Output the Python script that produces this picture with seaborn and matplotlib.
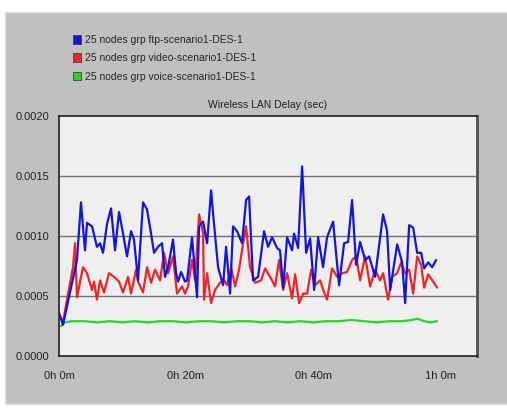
import numpy as np
import pandas as pd
import matplotlib
matplotlib.use("Agg")
import matplotlib.pyplot as plt
from matplotlib.patches import Rectangle, Patch
import seaborn as sns

# series labels
labels = ["25 nodes grp ftp-scenario1-DES-1",
          "25 nodes grp video-scenario1-DES-1",
          "25 nodes grp voice-scenario1-DES-1"]

# ftp series (minutes, sec)
ftp_t = [0.0, 0.63, 2.83, 3.46, 4.09, 4.41, 5.20, 5.98, 6.46, 6.93, 7.56, 8.19,
         8.82, 9.45, 10.08, 10.71, 11.34, 11.81, 12.44, 13.23, 13.86, 14.49,
         14.96, 15.59, 16.22, 16.69, 17.17, 17.95, 18.43, 18.74, 19.21, 19.84,
         20.16, 20.94, 21.73, 22.05, 22.68, 23.31, 23.94, 24.25, 25.04, 25.83,
         26.30, 26.93, 27.40, 28.03, 28.82, 29.45, 29.92, 30.55, 31.34, 32.28,
         32.91, 33.54, 34.33, 34.80, 35.28, 35.91, 36.69, 37.01, 37.64, 38.27,
         38.90, 39.53, 40.16, 40.79, 41.57, 42.20, 43.15, 44.09, 44.88, 45.51,
         46.14, 46.77, 47.40, 48.19, 48.82, 49.76, 50.24, 51.02, 51.65, 52.13,
         53.23, 54.02, 54.49, 55.12, 55.75, 56.38, 57.01, 57.48, 58.11, 58.74,
         59.37]
ftp_v = [0.00036, 0.00026, 0.00080, 0.00128, 0.00088, 0.00111, 0.00108, 0.00091,
         0.00094, 0.00086, 0.00110, 0.00123, 0.00088, 0.00120, 0.00102, 0.00083,
         0.00104, 0.00097, 0.00063, 0.00128, 0.00122, 0.00102, 0.00086, 0.00091,
         0.00094, 0.00066, 0.00074, 0.00097, 0.00069, 0.00062, 0.00070, 0.00062,
         0.00063, 0.00099, 0.00049, 0.00108, 0.00112, 0.00094, 0.00138, 0.00119,
         0.00074, 0.00059, 0.00091, 0.00052, 0.00108, 0.00104, 0.00094, 0.00130,
         0.00133, 0.00063, 0.00066, 0.00104, 0.00091, 0.00099, 0.00090, 0.00088,
         0.00057, 0.00099, 0.00088, 0.00102, 0.00090, 0.00158, 0.00086, 0.00098,
         0.00055, 0.00099, 0.00074, 0.00099, 0.00112, 0.00059, 0.00094, 0.00095,
         0.00130, 0.00076, 0.00095, 0.00080, 0.00083, 0.00066, 0.00086, 0.00118,
         0.00104, 0.00055, 0.00093, 0.00078, 0.00044, 0.00109, 0.00107, 0.00086,
         0.00086, 0.00073, 0.00078, 0.00074, 0.00080]

# video series
video_t = [0.0, 0.63, 1.26, 2.20, 2.52, 2.83, 3.78, 4.41, 5.20, 5.51, 5.98, 6.46,
           7.09, 7.87, 8.66, 9.45, 10.08, 10.87, 11.34, 12.13, 12.44, 13.23,
           13.86, 14.49, 15.12, 15.91, 16.54, 17.17, 17.95, 18.58, 19.37, 19.84,
           20.31, 20.94, 21.42, 22.05, 22.68, 22.83, 23.31, 23.94, 24.57, 25.35,
           25.98, 26.46, 27.09, 27.72, 28.35, 28.98, 29.45, 30.08, 30.87, 31.81,
           32.44, 33.23, 34.02, 34.65, 35.28, 35.91, 36.69, 37.17, 37.80, 38.43,
           39.06, 39.69, 40.31, 41.10, 41.73, 42.20, 42.99, 43.78, 44.57, 45.35,
           46.14, 46.77, 47.40, 48.19, 48.98, 49.76, 50.55, 51.02, 51.81, 52.44,
           53.23, 53.86, 54.49, 55.12, 55.75, 56.38, 57.01, 57.48, 58.11, 58.90,
           59.53]
video_v = [0.00035, 0.00028, 0.00047, 0.00074, 0.00094, 0.00049, 0.00074, 0.00069,
           0.00055, 0.00062, 0.00047, 0.00063, 0.00053, 0.00069, 0.00066, 0.00062,
           0.00053, 0.00066, 0.00052, 0.00072, 0.00062, 0.00053, 0.00074, 0.00061,
           0.00072, 0.00063, 0.00086, 0.00069, 0.00083, 0.00052, 0.00058, 0.00052,
           0.00058, 0.00080, 0.00063, 0.00118, 0.00102, 0.00047, 0.00069, 0.00044,
           0.00055, 0.00061, 0.00063, 0.00059, 0.00074, 0.00058, 0.00072, 0.00094,
           0.00108, 0.00074, 0.00061, 0.00063, 0.00073, 0.00066, 0.00058, 0.00080,
           0.00055, 0.00069, 0.00048, 0.00068, 0.00044, 0.00052, 0.00052, 0.00072,
           0.00059, 0.00063, 0.00053, 0.00047, 0.00073, 0.00066, 0.00069, 0.00070,
           0.00080, 0.00083, 0.00063, 0.00083, 0.00058, 0.00072, 0.00063, 0.00069,
           0.00047, 0.00066, 0.00069, 0.00078, 0.00069, 0.00072, 0.00052, 0.00083,
           0.00076, 0.00057, 0.00068, 0.00062, 0.00057]

# voice series
voice_t = [0.3, 0.9, 2, 4, 6, 8, 10, 12, 14, 16, 18, 20, 22, 24, 26, 28, 30, 32,
           34, 36, 38, 40, 42, 44, 46, 48, 50, 52, 54, 55.5, 56.5, 57.5, 58.5, 59.5]
voice_v = [0.00025, 0.00028, 0.00029, 0.00029, 0.00028, 0.00029, 0.00028, 0.00029,
           0.00028, 0.00029, 0.00029, 0.00028, 0.00029, 0.00029, 0.00028, 0.00029,
           0.00029, 0.00028, 0.00029, 0.00028, 0.00029, 0.00028, 0.00029, 0.00029,
           0.00030, 0.00029, 0.00028, 0.00029, 0.00029, 0.00030, 0.00031, 0.00029,
           0.00028, 0.00029]

xticks = [0, 20, 40, 60]
xtick_labels = ["0h 0m", "0h 20m", "0h 40m", "1h 0m"]
yticks = [0.0, 0.0005, 0.0010, 0.0015, 0.0020]

colors = ["#1414e0", "#f02424", "#24d824"]

# draw voice, video, then ftp so blue sits on top
df = pd.concat([
    pd.DataFrame({"t": voice_t, "v": voice_v, "s": labels[2]}),
    pd.DataFrame({"t": video_t, "v": video_v, "s": labels[1]}),
    pd.DataFrame({"t": ftp_t, "v": ftp_v, "s": labels[0]}),
])

sns.set_style("white")
plt.rcParams["font.family"] = ["Liberation Sans", "DejaVu Sans"]

fig = plt.figure(figsize=(5.07, 4.08), dpi=100)
fig.patch.set_facecolor("white")
# grey panel behind the chart
fig.patches.append(Rectangle((5 / 507, 0.01), 1, 1 - 12 / 408 - 0.01,
                             transform=fig.transFigure, facecolor="#c0c0c0",
                             edgecolor="#e0e0e0", lw=1, zorder=-10))

ax = fig.add_axes([59 / 507, 1 - 356 / 408, 418 / 507, 240 / 408])
ax.set_zorder(5)
ax.set_facecolor("#efefef")

sns.lineplot(data=df, x="t", y="v", hue="s", palette=colors[::-1],
             hue_order=labels[::-1], estimator=None, sort=False, lw=1.6,
             ax=ax, legend=False, zorder=3)

ax.set_xlim(0, 65.8)
ax.set_ylim(0, 0.002)
ax.set_xticks(xticks)
ax.set_xticklabels(xtick_labels)
ax.set_yticks(yticks)
ax.set_yticklabels([f"{v:.4f}" for v in yticks])
ax.tick_params(axis="both", labelsize=8, colors="#222222", length=4,
               width=1, direction="out")
ax.tick_params(axis="x", pad=7)
ax.tick_params(axis="y", pad=3)
ax.set_xlabel("")
ax.set_ylabel("")
for y in yticks[1:4]:
    ax.axhline(y, color="#707070", lw=1, zorder=1)
for side in ["top", "left", "bottom"]:
    ax.spines[side].set_color("#202020")
    ax.spines[side].set_linewidth(1.2)
ax.spines["right"].set_color("#505050")
ax.spines["right"].set_linewidth(2)

ax.set_title("Wireless LAN Delay (sec)", fontsize=7.5, color="#222222", pad=6)

handles = [Patch(facecolor=c, edgecolor="#303030", lw=0.5) for c in colors]
fig.legend(handles, labels, loc="upper left", bbox_to_anchor=(73 / 507, 1 - 35 / 408),
           frameon=False, fontsize=7.5, handlelength=0.8, handleheight=0.9,
           handletextpad=0.35, labelspacing=0.8, borderaxespad=0, borderpad=0)

fig.savefig("out.png", dpi=100)
